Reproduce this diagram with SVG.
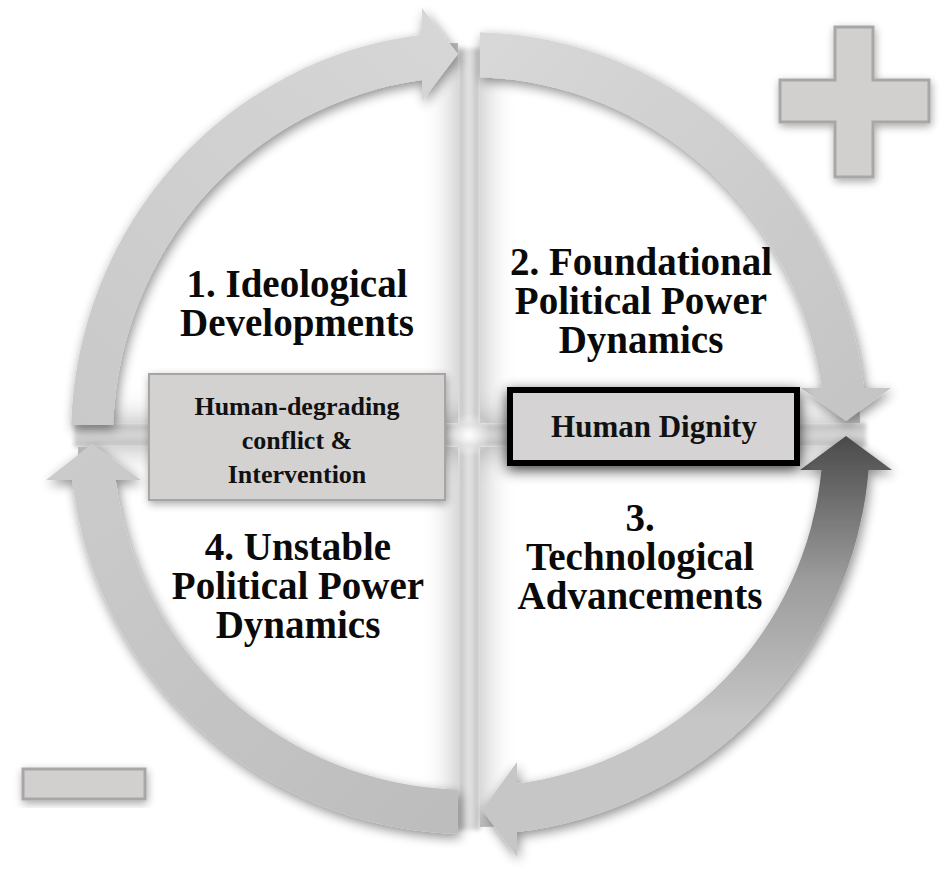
<svg xmlns="http://www.w3.org/2000/svg" width="950" height="874" viewBox="0 0 950 874">
<style>
.h{font-family:"Liberation Serif","Times New Roman",serif;font-weight:bold;font-size:39px;fill:#0a0a0a;text-anchor:middle}
.b{font-family:"Liberation Serif","Times New Roman",serif;font-weight:bold;font-size:26px;fill:#111;text-anchor:middle}
.sign{fill:#d2cfcf;stroke:#a8a6a6;stroke-width:3}
</style>
<defs>
<filter id="inset" x="-10%" y="-10%" width="120%" height="120%">
<feFlood flood-color="#8f8f8f" result="f"/>
<feComposite in="f" in2="SourceAlpha" operator="out" result="o"/>
<feGaussianBlur in="o" stdDeviation="16" result="bl"/>
<feComposite in="bl" in2="SourceAlpha" operator="in" result="s"/>
<feMerge><feMergeNode in="SourceGraphic"/><feMergeNode in="s"/></feMerge>
</filter>
<filter id="sh" x="-20%" y="-20%" width="140%" height="140%">
<feGaussianBlur in="SourceAlpha" stdDeviation="6"/>
<feOffset dx="2" dy="4" result="o"/>
<feComponentTransfer><feFuncA type="linear" slope="0.45"/></feComponentTransfer>
<feMerge><feMergeNode/><feMergeNode in="SourceGraphic"/></feMerge>
</filter>
<filter id="shBox2" x="-20%" y="-50%" width="140%" height="200%">
<feGaussianBlur in="SourceAlpha" stdDeviation="7"/>
<feOffset dx="0" dy="4" result="o"/>
<feComponentTransfer><feFuncA type="linear" slope="0.75"/></feComponentTransfer>
<feMerge><feMergeNode/><feMergeNode in="SourceGraphic"/></feMerge>
</filter>
<filter id="shSmall" x="-20%" y="-30%" width="140%" height="160%">
<feGaussianBlur in="SourceAlpha" stdDeviation="4"/>
<feOffset dx="1" dy="3" result="o"/>
<feComponentTransfer><feFuncA type="linear" slope="0.35"/></feComponentTransfer>
<feMerge><feMergeNode/><feMergeNode in="SourceGraphic"/></feMerge>
</filter>
<filter id="soft" x="-5%" y="-5%" width="110%" height="110%"><feGaussianBlur stdDeviation="2"/></filter>
<linearGradient id="gV" x1="0" y1="0" x2="1" y2="0">
<stop offset="0" stop-color="#bcbcbc"/><stop offset="0.5" stop-color="#e6e6e6"/><stop offset="1" stop-color="#bcbcbc"/>
</linearGradient>
<linearGradient id="gH" x1="0" y1="0" x2="0" y2="1">
<stop offset="0" stop-color="#bdbdbd"/><stop offset="0.5" stop-color="#d6d6d6"/><stop offset="1" stop-color="#bdbdbd"/>
</linearGradient>
<radialGradient id="glow" cx="0.5" cy="0.5" r="0.5">
<stop offset="0" stop-color="#ffffff" stop-opacity="1"/><stop offset="1" stop-color="#ffffff" stop-opacity="0"/>
</radialGradient>
<linearGradient id="a1" gradientUnits="userSpaceOnUse" x1="90" y1="425" x2="440" y2="40">
<stop offset="0" stop-color="#c9c9c9"/><stop offset="1" stop-color="#d6d6d6"/>
</linearGradient>
<linearGradient id="a2" gradientUnits="userSpaceOnUse" x1="480" y1="40" x2="850" y2="400">
<stop offset="0" stop-color="#d8d8d8"/><stop offset="1" stop-color="#c5c5c5"/>
</linearGradient>
<linearGradient id="a3" gradientUnits="userSpaceOnUse" x1="0" y1="440" x2="0" y2="720">
<stop offset="0" stop-color="#4c4c4c"/><stop offset="0.5" stop-color="#9c9c9c"/><stop offset="1" stop-color="#c6c6c6"/>
</linearGradient>
<linearGradient id="a4" gradientUnits="userSpaceOnUse" x1="90" y1="450" x2="450" y2="820">
<stop offset="0" stop-color="#cbcbcb"/><stop offset="1" stop-color="#bdbdbd"/>
</linearGradient>
</defs>
<rect width="950" height="874" fill="#ffffff"/>
<g id="gaps" filter="url(#soft)">
<rect x="458" y="48" width="22" height="782" fill="url(#gV)"/>
<rect x="74" y="423" width="792" height="24" fill="url(#gH)"/>
</g>
<g id="quadrants" fill="#ffffff" filter="url(#inset)">
<path id="q1" d="M458,423 L78,423 A380,380 0 0 1 458,43 Z"/>
<path id="q2" d="M480,423 L480,43 A380,380 0 0 1 860,423 Z"/>
<path id="q3" d="M480,447 L860,447 A380,380 0 0 1 480,827 Z"/>
<path id="q4" d="M458,447 L458,827 A380,380 0 0 1 78,447 Z"/>
</g>
<circle cx="469" cy="435" r="22" fill="url(#glow)"/>
<g id="connectors">
<path id="arrow1" filter="url(#sh)" fill="url(#a1)" d="M71.2,425 A398,405 0 0 1 422,34.8 L422,8 L458,54 L422,101 L422,80.1 A356,360 0 0 0 113.2,425 Z"/>
<path id="arrow2" filter="url(#sh)" fill="url(#a2)" d="M480,32.2 A398,405 0 0 1 864.1,388 L891,388 L846,421 L801,388 L821.7,388 A356,360 0 0 0 480,77.2 Z"/>
<path id="arrow3" filter="url(#sh)" fill="url(#a3)" d="M846,436 L892,470 L868.6,470 A401,398 0 0 1 517,832.1 L517,857 L482,810 L517,762 L517,783.8 A354,350 0 0 0 821.4,470 L800,470 Z"/>
<path id="arrow4" filter="url(#sh)" fill="url(#a4)" d="M458,833.8 A399,397 0 0 1 72.3,480 L46,480 L92,444 L141,480 L115.7,480 A356,353 0 0 0 458,789.8 Z"/>
</g>
<g id="box1">
<rect x="149" y="374" width="296" height="126" fill="#d4d1d1" stroke="#a6a4a4" stroke-width="2" filter="url(#shSmall)"/>
<text class="b" x="297" y="415">Human-degrading</text>
<text class="b" x="297" y="449">conflict &amp;</text>
<text class="b" x="297" y="483">Intervention</text>
</g>
<g id="box2">
<rect x="510" y="390" width="287" height="73" fill="#d5d3d3" stroke="#000" stroke-width="6" filter="url(#shBox2)"/>
<text class="b" x="654" y="437" style="font-size:31px">Human Dignity</text>
</g>
<g id="label1">
<text class="h" x="297" y="297">1. Ideological</text>
<text class="h" x="297" y="336">Developments</text>
</g>
<g id="label2">
<text class="h" x="641" y="275">2. Foundational</text>
<text class="h" x="641" y="314">Political Power</text>
<text class="h" x="641" y="353">Dynamics</text>
</g>
<g id="label3">
<text class="h" x="640" y="531">3.</text>
<text class="h" x="640" y="570">Technological</text>
<text class="h" x="640" y="609">Advancements</text>
</g>
<g id="label4">
<text class="h" x="298" y="560">4. Unstable</text>
<text class="h" x="298" y="599">Political Power</text>
<text class="h" x="298" y="638">Dynamics</text>
</g>
<g id="plus" filter="url(#shSmall)">
<path class="sign" d="M835,27 L873,27 L873,80 L929,80 L929,122 L873,122 L873,177 L835,177 L835,122 L780,122 L780,80 L835,80 Z"/>
</g>
<g id="minus" filter="url(#shSmall)">
<rect class="sign" x="23" y="769" width="122" height="30"/>
</g>
</svg>
